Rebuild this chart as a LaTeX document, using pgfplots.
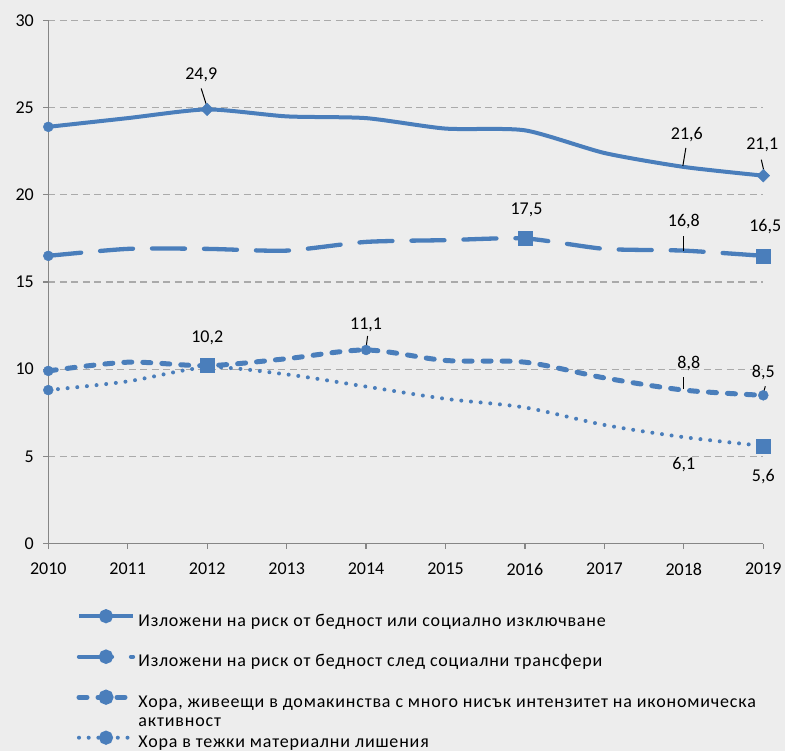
\documentclass[border=0pt]{standalone}
\usepackage{fontspec}
\setmainfont{Carlito}
\newfontfamily\legfont{Carlito}[LetterSpace=4.5]
\usepackage{pgfplots}
\pgfplotsset{compat=1.18}
\definecolor{ser}{RGB}{74,126,187}
\definecolor{bg}{RGB}{237,237,237}
\definecolor{axg}{RGB}{134,134,134}
\definecolor{grd}{RGB}{170,170,170}
\newcommand{\fs}{\fontsize{18bp}{19bp}\selectfont}
\newcommand{\lbl}[5]{\node[font=\fs,xshift=#3,yshift=#4] at (axis cs:#1,#2) {#5};}
\newcommand{\ldr}[6]{\draw[black,line width=1bp] ([xshift=#3,yshift=#4]axis cs:#1,#2) -- ([xshift=#5,yshift=#6]axis cs:#1,#2);}
\begin{document}
\begin{tikzpicture}
\useasboundingbox (-48.3bp,-207.5bp) rectangle (736.7bp,543.5bp);
\fill[bg] (-48.3bp,-207.5bp) rectangle (736.7bp,543.5bp);
\begin{axis}[
  at={(0,0)}, anchor=south west,
  scale only axis, width=715bp, height=523bp,
  xmin=2010, xmax=2019, ymin=0, ymax=30,
  xtick={2010,2011,...,2019}, ytick={0,5,...,30},
  /pgf/number format/1000 sep={},
  /pgf/number format/assume math mode=true,
  ticklabel style={font=\fs},
  axis x line=bottom, axis y line=left,
  axis line style={draw=axg, line width=1.3bp, -},
  tick style={draw=axg, line width=1.3bp},
  tick align=outside, major tick length=5bp,
  ymajorgrids, grid style={draw=grd, line width=1.2bp, dash pattern=on 7bp off 4.5bp},
  yticklabel style={xshift=-6bp}, xticklabel style={yshift=-11bp},
  legend style={at={(0,0)}, anchor=north west, xshift=28bp, yshift=-66.5bp,
    draw=none, fill=none, inner sep=0pt, row sep=17.5bp, font=\fs\legfont,
    nodes={text height=13bp, text depth=4bp, inner sep=3bp}},
  legend cell align=left,
  legend image code/.code={\draw[mark repeat=2,mark phase=2,#1] plot coordinates {(0bp,5.5bp) (27bp,5.5bp) (54bp,5.5bp)};},
  clip=false,
]
% series 1: solid
\addplot[ser, line width=4bp, smooth, tension=0.4, forget plot] coordinates {
 (2010,23.9) (2011,24.4) (2012,24.9) (2013,24.5) (2014,24.4) (2015,23.8) (2016,23.7) (2017,22.4) (2018,21.6) (2019,21.1)};
% series 2: long dash
\addplot[ser, line width=4.3bp, line cap=round, dash pattern=on 33bp off 19bp, smooth, tension=0.4, forget plot] coordinates {
 (2010,16.5) (2011,16.9) (2012,16.9) (2013,16.8) (2014,17.3) (2015,17.4) (2016,17.5) (2017,16.9) (2018,16.8) (2019,16.5)};
% series 3: dash
\addplot[ser, line width=5bp, line cap=round, dash pattern=on 8bp off 11bp, smooth, tension=0.5, forget plot] coordinates {
 (2010,9.9) (2011,10.4) (2012,10.2) (2013,10.6) (2014,11.1) (2015,10.5) (2016,10.4) (2017,9.5) (2018,8.8) (2019,8.5)};
% series 4: dotted
\addplot[ser, line width=4bp, line cap=round, dash pattern=on 0bp off 9.7bp, smooth, tension=0.5, forget plot] coordinates {
 (2010,8.8) (2011,9.3) (2012,10.1) (2013,9.7) (2014,9.0) (2015,8.3) (2016,7.8) (2017,6.8) (2018,6.1) (2019,5.6)};
% point markers
\addplot[ser, only marks, mark=*, mark size=5bp, forget plot] coordinates {
 (2010,23.9) (2010,16.5) (2010,9.9) (2010,8.8) (2014,11.1) (2019,8.5)};
\addplot[ser, only marks, mark=square*, mark size=4.5bp, mark options={rotate=45}, forget plot] coordinates {
 (2012,24.9) (2019,21.1)};
\addplot[ser, only marks, mark=square*, mark size=7bp, forget plot] coordinates {
 (2016,17.5) (2019,16.5) (2012,10.2) (2019,5.6)};
% legend
\addlegendimage{ser, line width=4bp, mark=*, mark size=5bp, mark options={solid}}
\addlegendentry{Изложени на риск от бедност или социално изключване}
\addlegendimage{ser, line width=4.3bp, line cap=round, dash pattern=on 33bp off 19bp, mark=*, mark size=5bp, mark options={solid}}
\addlegendentry{Изложени на риск от бедност след социални трансфери}
\addlegendimage{ser, line width=5bp, line cap=round, dash pattern=on 8bp off 11bp, mark=*, mark size=5bp, mark options={solid}}
\addlegendentry{\begin{tabular}[t]{@{}l@{}}Хора, живеещи в домакинства с много нисък интензитет на икономическа\\активност\end{tabular}}
\addlegendimage{ser, line width=4bp, line cap=round, dash pattern=on 0bp off 9.7bp, mark=*, mark size=5bp, mark options={solid}}
\addlegendentry{Хора в тежки материални лишения}
% data labels
\lbl{2012}{24.9}{-6bp}{34.5bp}{24,9}
\ldr{2012}{24.9}{0bp}{2bp}{-6bp}{21bp}
\lbl{2018}{21.6}{3bp}{32bp}{21,6}
\ldr{2018}{21.6}{-1bp}{1bp}{2bp}{19bp}
\lbl{2019}{21.1}{-1bp}{31bp}{21,1}
\ldr{2019}{21.1}{1bp}{3bp}{-2bp}{16bp}
\lbl{2016}{17.5}{1.5bp}{28.5bp}{17,5}
\lbl{2018}{16.8}{0bp}{29bp}{16,8}
\ldr{2018}{16.8}{0bp}{0bp}{0bp}{15bp}
\lbl{2019}{16.5}{2bp}{29bp}{16,5}
\lbl{2012}{10.2}{0bp}{28bp}{10,2}
\lbl{2014}{11.1}{0bp}{25bp}{11,1}
\ldr{2014}{11.1}{0bp}{2bp}{1.5bp}{14bp}
\lbl{2018}{8.8}{5bp}{27bp}{8,8}
\ldr{2018}{8.8}{0bp}{1bp}{0bp}{13bp}
\lbl{2019}{8.5}{0bp}{23bp}{8,5}
\ldr{2019}{8.5}{0bp}{2bp}{2bp}{9bp}
\lbl{2018}{6.1}{0bp}{-27bp}{6,1}
\lbl{2019}{5.6}{0bp}{-31bp}{5,6}
\end{axis}
\end{tikzpicture}
\end{document}
